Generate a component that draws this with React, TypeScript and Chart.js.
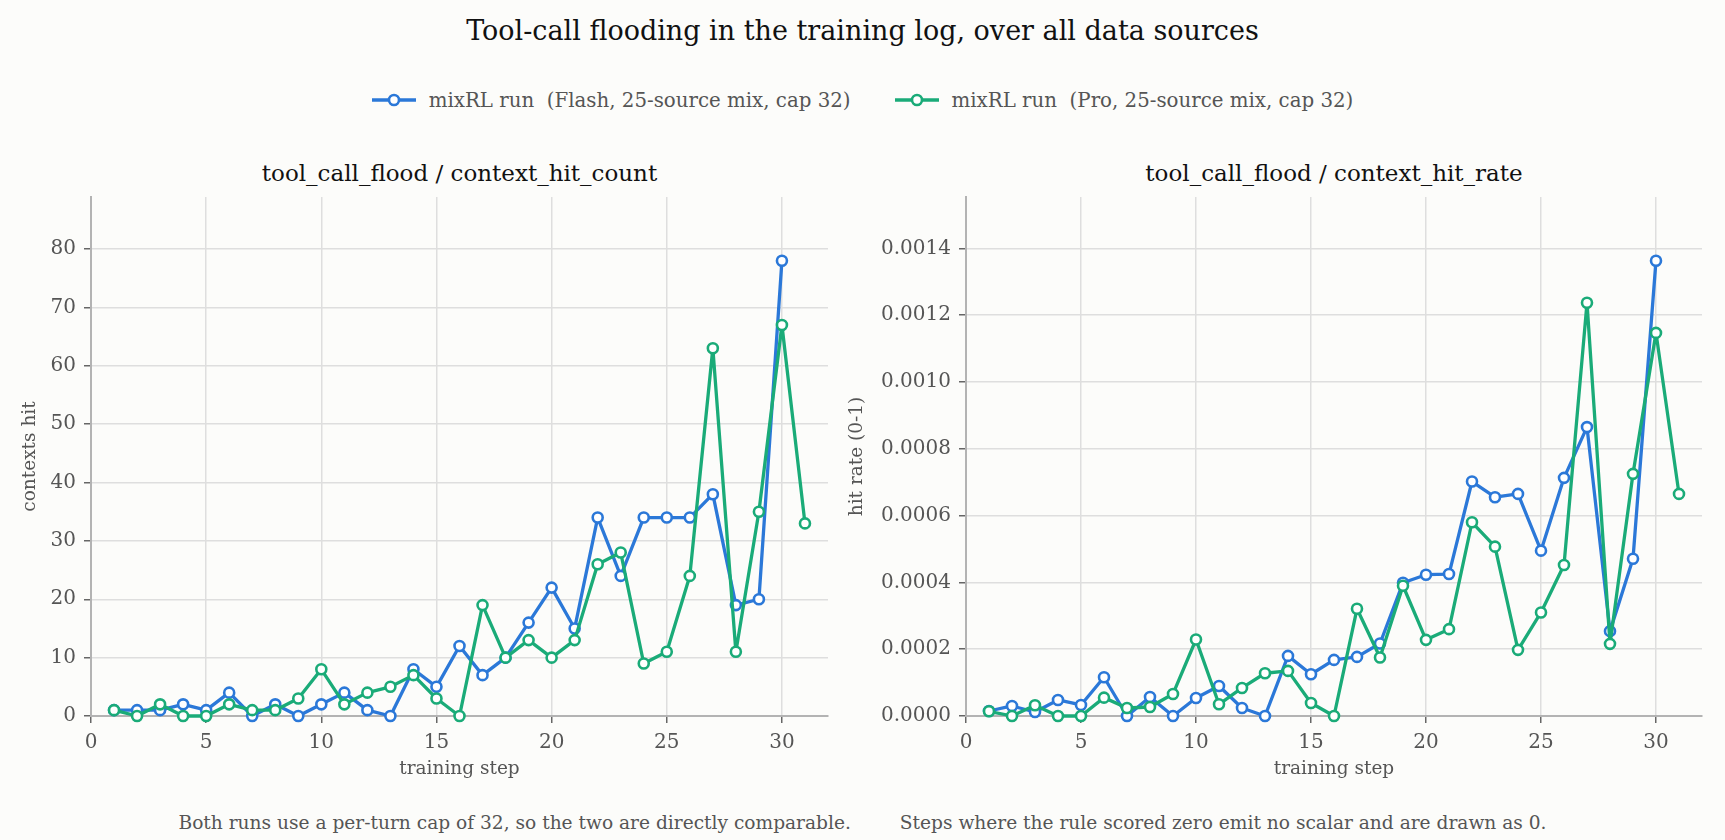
import React, { useEffect, useRef } from "react";
import { Chart, registerables } from "chart.js";

Chart.register(...registerables);

const FONT = "DejaVu Serif";

const steps = [1, 2, 3, 4, 5, 6, 7, 8, 9, 10, 11, 12, 13, 14, 15, 16, 17, 18, 19, 20, 21, 22, 23, 24, 25, 26, 27, 28, 29, 30, 31];
const flashCount = [1, 1, 1, 2, 1, 4, 0, 2, 0, 2, 4, 1, 0, 8, 5, 12, 7, 10, 16, 22, 15, 34, 24, 34, 34, 34, 38, 19, 20, 78];
const proCount = [1, 0, 2, 0, 0, 2, 1, 1, 3, 8, 2, 4, 5, 7, 3, 0, 19, 10, 13, 10, 13, 26, 28, 9, 11, 24, 63, 11, 35, 67, 33];
const flashRate = [0.000015, 0.00003, 0.000012, 0.000048, 0.000033, 0.000116, 0, 0.000057, 0, 0.000054, 0.00009, 0.000024, 0, 0.00018, 0.000125, 0.000168, 0.000177, 0.000217, 0.000399, 0.000423, 0.000425, 0.000702, 0.000655, 0.000665, 0.000495, 0.000713, 0.000865, 0.000254, 0.000471, 0.001363];
const proRate = [0.000014, 0, 0.000032, 0, 0, 0.000055, 0.000024, 0.000027, 0.000066, 0.000229, 0.000035, 0.000084, 0.000128, 0.000135, 0.000039, 0, 0.000321, 0.000175, 0.00039, 0.000228, 0.00026, 0.00058, 0.000507, 0.000198, 0.00031, 0.000452, 0.001237, 0.000216, 0.000725, 0.001147, 0.000665];

const xTicks = [0, 5, 10, 15, 20, 25, 30];
const countTicks = [0, 10, 20, 30, 40, 50, 60, 70, 80];
const rateTicks = [0, 0.0002, 0.0004, 0.0006, 0.0008, 0.001, 0.0012, 0.0014];

const seriesNames = ["mixRL run  (Flash, 25-source mix, cap 32)", "mixRL run  (Pro, 25-source mix, cap 32)"];
const BLUE = "#2b78d8";
const GREEN = "#1aab78";

const TEXT = "#555555";

function toPoints(vals: number[]) {
  return vals.map((v, i) => ({ x: steps[i], y: v }));
}

type PanelProps = {
  flash: number[];
  pro: number[];
  ticks: number[];
  yTitle: string;
  fmt: (v: number) => string;
  yAxisWidth: number;
  yTitlePad: number;
  padRight: number;
};

function Panel(p: PanelProps & { style: React.CSSProperties; w: number; h: number }) {
  const ref = useRef<HTMLCanvasElement | null>(null);
  useEffect(() => {
    if (!ref.current) return;
    const yMax = Math.max(...p.flash, ...p.pro) * 1.14;
    const chart = new Chart(ref.current, {
      type: "line",
      data: {
        datasets: [
          {
            label: seriesNames[0],
            data: toPoints(p.flash),
            borderColor: BLUE,
            pointBorderColor: BLUE,
            pointBackgroundColor: "#ffffff",
            order: 1,
          },
          {
            label: seriesNames[1],
            data: toPoints(p.pro),
            borderColor: GREEN,
            pointBorderColor: GREEN,
            pointBackgroundColor: "#ffffff",
            order: 0,
          },
        ],
      },
      options: {
        animation: false,
        responsive: false,
        layout: { padding: { top: 57, left: 0, right: p.padRight, bottom: 0 } },
        elements: {
          line: { borderWidth: 3.3, tension: 0, borderJoinStyle: "round", borderCapStyle: "round" },
          point: { radius: 5, borderWidth: 2.6, hoverRadius: 5 },
        },
        datasets: { line: { clip: false } as any },
        plugins: { legend: { display: false }, title: { display: false }, tooltip: { enabled: false } },
        scales: {
          x: {
            type: "linear",
            min: 0,
            max: 32,
            afterBuildTicks: (s: any) => {
              s.ticks = xTicks.map((v) => ({ value: v }));
            },
            ticks: { font: { family: FONT, size: 20 }, color: TEXT, padding: 8, maxRotation: 0 },
            grid: { color: "#dedede", lineWidth: 1.5, tickLength: 7, tickColor: "#666666", tickWidth: 1.5 },
            border: { color: "#b3b3b3", width: 2 },
            title: { display: true, text: "training step", font: { family: FONT, size: 18.5 }, color: TEXT, padding: { top: 0, bottom: 10 } },
            afterFit: (s: any) => {
              s.height = 74;
            },
          },
          y: {
            type: "linear",
            min: 0,
            max: yMax,
            afterBuildTicks: (s: any) => {
              s.ticks = p.ticks.map((v) => ({ value: v }));
            },
            ticks: { font: { family: FONT, size: 20 }, color: TEXT, padding: 8, callback: (v: any) => p.fmt(Number(v)) },
            grid: { color: "#dedede", lineWidth: 1.5, tickLength: 7, tickColor: "#666666", tickWidth: 1.5 },
            border: { color: "#b3b3b3", width: 2 },
            title: { display: true, text: p.yTitle, font: { family: FONT, size: 18.5 }, color: TEXT, padding: { top: p.yTitlePad, bottom: 0 } },
            afterFit: (s: any) => {
              s.width = p.yAxisWidth;
            },
          },
        },
      },
    });
    return () => chart.destroy();
  }, []);
  return <canvas ref={ref} width={p.w} height={p.h} style={{ position: "absolute", ...p.style, width: p.w, height: p.h }} />;
}

function LegendItem({ color, label }: { color: string; label: string }) {
  return (
    <div style={{ display: "flex", alignItems: "center" }}>
      <svg width={44} height={16} style={{ display: "block" }}>
        <line x1={0} y1={8} x2={44} y2={8} stroke={color} strokeWidth={3.3} />
        <circle cx={22} cy={8} r={5} fill="#ffffff" stroke={color} strokeWidth={2.6} />
      </svg>
      <span style={{ marginLeft: 13, whiteSpace: "pre", fontSize: 19.8, color: TEXT }}>{label}</span>
    </div>
  );
}

export default function App() {
  useEffect(() => {
    document.body.style.margin = "0";
    document.body.style.background = "#fcfcfa";
  }, []);
  return (
    <div style={{ position: "absolute", left: 0, top: 0, width: 1725, height: 840, background: "#fcfcfa", fontFamily: FONT, overflow: "hidden" }}>
      <div style={{ position: "absolute", top: 14, left: 0, width: 1725, textAlign: "center", fontSize: 27, lineHeight: "34px", color: "#111" }}>
        Tool-call flooding in the training log, over all data sources
      </div>
      <div style={{ position: "absolute", top: 88, left: 0, width: 1725, height: 24, display: "flex", justifyContent: "center", alignItems: "center", gap: 44 }}>
        <LegendItem color={BLUE} label={seriesNames[0]} />
        <LegendItem color={GREEN} label={seriesNames[1]} />
      </div>
      <div style={{ position: "absolute", top: 159, left: 91, width: 737, textAlign: "center", fontSize: 23, lineHeight: "28px", color: "#111" }}>
        tool_call_flood / context_hit_count
      </div>
      <div style={{ position: "absolute", top: 159, left: 966, width: 736, textAlign: "center", fontSize: 23, lineHeight: "28px", color: "#111" }}>
        tool_call_flood / context_hit_rate
      </div>
      <Panel
        w={840}
        h={650}
        style={{ left: 0, top: 140 }}
        flash={flashCount}
        pro={proCount}
        ticks={countTicks}
        yTitle="contexts hit"
        fmt={(v) => String(Math.round(v))}
        yAxisWidth={91}
        yTitlePad={19}
        padRight={12}
      />
      <Panel
        w={890}
        h={650}
        style={{ left: 835, top: 140 }}
        flash={flashRate}
        pro={proRate}
        ticks={rateTicks}
        yTitle="hit rate (0-1)"
        fmt={(v) => v.toFixed(4)}
        yAxisWidth={131}
        yTitlePad={11}
        padRight={23}
      />
      <div style={{ position: "absolute", top: 811, left: 0, width: 1725, textAlign: "center", fontSize: 18.6, lineHeight: "24px", color: TEXT, whiteSpace: "pre" }}>
        <span>Both runs use a per-turn cap of 32, so the two are directly comparable.</span>
        <span style={{ marginLeft: 49 }}>Steps where the rule scored zero emit no scalar and are drawn as 0.</span>
      </div>
    </div>
  );
}
